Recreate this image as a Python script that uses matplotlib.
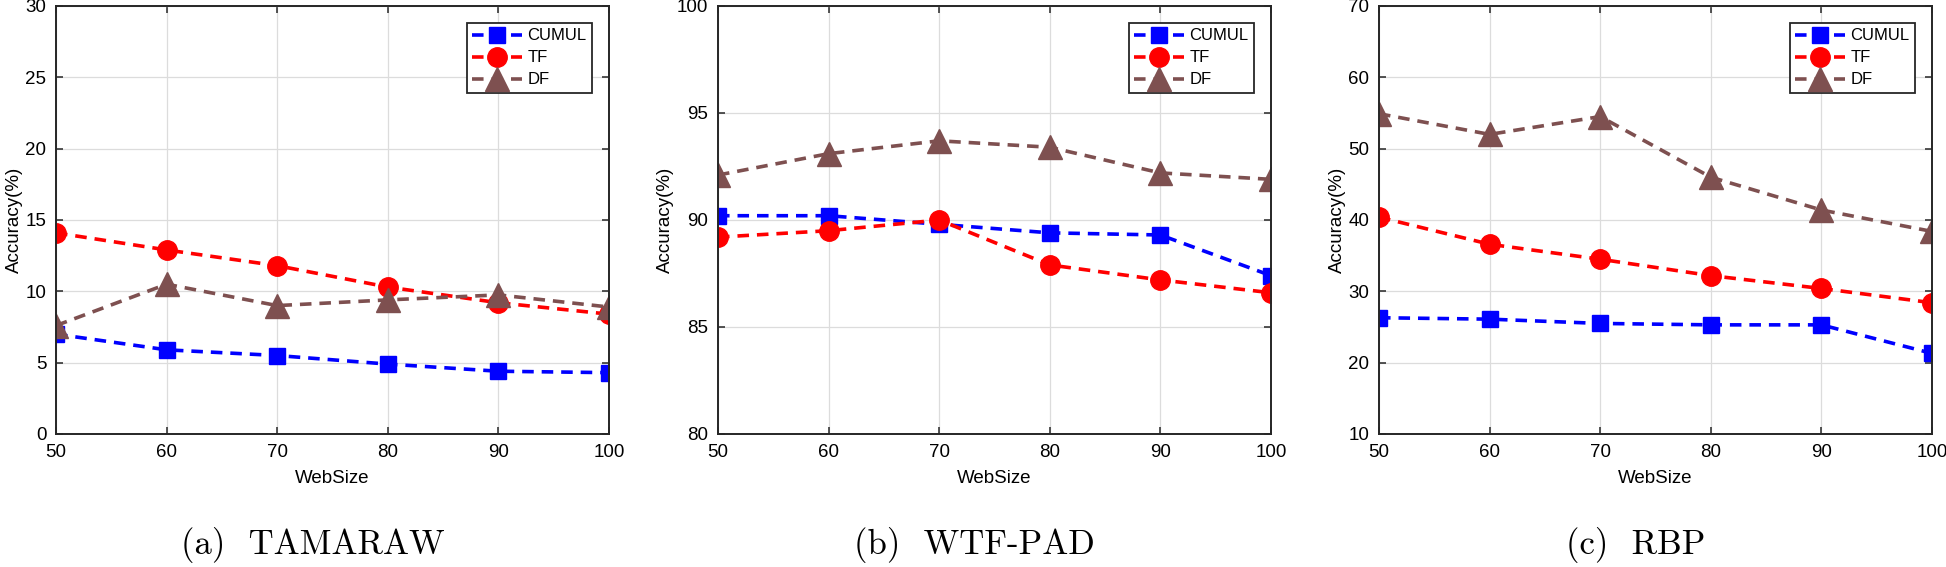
import matplotlib
matplotlib.use('Agg')
import matplotlib.pyplot as plt

plt.rcParams['font.family'] = ['Liberation Sans', 'DejaVu Sans']

web_size = [50, 60, 70, 80, 90, 100]

# (a) TAMARAW
tam_cumul = [7.0, 5.9, 5.5, 4.9, 4.4, 4.3]
tam_tf = [14.1, 12.9, 11.8, 10.3, 9.2, 8.4]
tam_df = [7.6, 10.5, 9.0, 9.4, 9.75, 8.9]

# (b) WTF-PAD
wtf_cumul = [90.2, 90.2, 89.8, 89.4, 89.3, 87.4]
wtf_tf = [89.2, 89.5, 90.0, 87.9, 87.2, 86.6]
wtf_df = [92.1, 93.1, 93.7, 93.4, 92.2, 91.9]

# (c) RBP
rbp_cumul = [26.3, 26.1, 25.5, 25.3, 25.3, 21.3]
rbp_tf = [40.4, 36.6, 34.5, 32.2, 30.4, 28.4]
rbp_df = [54.9, 52.0, 54.5, 46.0, 41.4, 38.4]

panels = [
    ('(a)  TAMARAW', tam_cumul, tam_tf, tam_df, (0, 30), [0, 5, 10, 15, 20, 25, 30]),
    ('(b)  WTF-PAD', wtf_cumul, wtf_tf, wtf_df, (80, 100), [80, 85, 90, 95, 100]),
    ('(c)  RBP', rbp_cumul, rbp_tf, rbp_df, (10, 70), [10, 20, 30, 40, 50, 60, 70]),
]

W, H = 1946, 567
fig = plt.figure(figsize=(W / 100, H / 100), dpi=100)

lefts = [56, 718, 1379]
ax_w, ax_top, ax_bot = 553, 6, 434
dash = (0, (3.2, 2.2))
brown = '#7e5050'

for left, (cap, cumul, tf, df, ylim, yticks) in zip(lefts, panels):
    ax = fig.add_axes([left / W, 1 - ax_bot / H, ax_w / W, (ax_bot - ax_top) / H])
    ax.plot(web_size, cumul, color='blue', linestyle=dash, linewidth=2.6,
            marker='s', markersize=12, label='CUMUL')
    ax.plot(web_size, tf, color='red', linestyle=dash, linewidth=2.6,
            marker='o', markersize=14, label='TF')
    ax.plot(web_size, df, color=brown, linestyle=dash, linewidth=2.6,
            marker='^', markersize=17, label='DF')
    ax.set_xlim(50, 100)
    ax.set_ylim(*ylim)
    ax.set_xticks(web_size)
    ax.set_yticks(yticks)
    ax.grid(True, color='#dcdcdc', linewidth=0.9)
    ax.set_axisbelow(True)
    for s in ax.spines.values():
        s.set_color('#262626')
        s.set_linewidth(1.4)
    ax.tick_params(direction='in', top=True, right=True, length=5, width=1.1,
                   color='#262626', labelsize=13.5, pad=7)
    ax.set_xlabel('WebSize', fontsize=13.5, labelpad=7)
    ax.set_ylabel('Accuracy(%)', fontsize=13.5, labelpad=2)
    leg = ax.legend(loc='upper right', fontsize=12, handlelength=3.0,
                    labelspacing=0.42, borderpad=0.35, handletextpad=0.3,
                    borderaxespad=1.0, fancybox=False, framealpha=1)
    leg.get_frame().set_edgecolor('#262626')
    leg.get_frame().set_linewidth(1.3)
    fig.text((left + ax_w / 2 - 20) / W, 1 - 545 / H, cap, family='cmr10',
             fontsize=25, ha='center', va='center')

fig.savefig('out.png', dpi=100)
